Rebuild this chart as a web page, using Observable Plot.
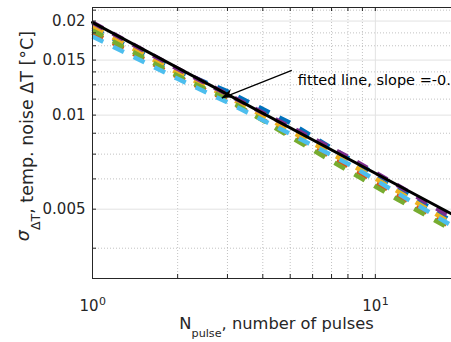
<!DOCTYPE html>
<html><head><meta charset="utf-8">
<script src="https://cdn.jsdelivr.net/npm/d3@7"></script>
<script src="https://cdn.jsdelivr.net/npm/@observablehq/plot@0.6"></script>
<style>
html,body{margin:0;padding:0;overflow:hidden;background:#fff;width:451px;height:342px}
svg{max-width:none !important;}
</style></head><body><div id="chart"></div>
<script>
// ---- data ----
const nPulse = [1, 2, 3, 5, 8, 12, 20];
const seriesNames = ["s1", "s2", "s3", "s4", "s5", "s6"];
const seriesColors = ["#0072BD", "#D95319", "#EDB120", "#7E2F8E", "#77AC30", "#4DBEEE"];
const s1 = [0.01894, 0.01386, 0.01191, 0.00944, 0.00730, 0.00587, 0.00439];
const s2 = [0.01839, 0.01326, 0.01115, 0.00864, 0.00688, 0.00554, 0.00420];
const s3 = [0.01922, 0.01366, 0.01148, 0.00890, 0.00704, 0.00570, 0.00433];
const s4 = [0.01980, 0.01407, 0.01165, 0.00917, 0.00736, 0.00596, 0.00452];
const s5 = [0.01866, 0.01336, 0.01123, 0.00852, 0.00664, 0.00537, 0.00414];
const s6 = [0.01785, 0.01307, 0.01098, 0.00871, 0.00699, 0.00562, 0.00426];
const seriesValues = [s1, s2, s3, s4, s5, s6];
const fitX = [1, 20];
const fitY = [0.0198, 0.00466];
const yTickValues = [0.005, 0.01, 0.015, 0.02];
const yTickLabels = ["0.005", "0.01", "0.015", "0.02"];
const yMinor = [0.00375, 0.00625, 0.0075, 0.00875, 0.01125, 0.0125, 0.01375, 0.01667, 0.01833, 0.02167];
const xMajor = [1, 10];
const xTickBase = ["10", "10"];
const xTickExp = ["0", "1"];
const xMinor = [2, 3, 4, 5, 6, 7, 8, 9];
const annotationText = "fitted line, slope =-0.5";
const annotationPos = [5.32, 0.01244];
const arrowFrom = [5.066, 0.0139];
const arrowTo = [2.866, 0.01133];

// ---- tables ----
const lineData = seriesNames.flatMap((s, k) => nPulse.map((n, i) => ({series: s, n, v: seriesValues[k][i]})));
const fitData = fitX.map((x, i) => ({x, y: fitY[i]}));
const txt = "#262626";
const FONT = "DejaVu Sans";

const plot = Plot.plot({
  width: 470, height: 342,
  marginLeft: 92, marginRight: 10, marginTop: 7, marginBottom: 64,
  style: {fontFamily: FONT, fontSize: "15px", color: txt, background: "white", maxWidth: "none"},
  x: {type: "log", domain: [1, 20], axis: null},
  y: {type: "log", domain: [0.003, 0.0221], axis: null},
  color: {domain: seriesNames, range: seriesColors},
  marks: [
    Plot.ruleY(yMinor, {y: d => d, stroke: "#a8a8a8", strokeOpacity: 0.7, strokeDasharray: "1,2"}),
    Plot.ruleX(xMinor, {x: d => d, stroke: "#a8a8a8", strokeOpacity: 0.7, strokeDasharray: "1,2"}),
    Plot.ruleY(yTickValues, {y: d => d, stroke: "#e2e2e2"}),
    Plot.ruleX(xMajor, {x: d => d, stroke: "#e2e2e2"}),
    Plot.line(lineData, {x: "n", y: "v", z: "series", stroke: "series", strokeWidth: 4.5, strokeDasharray: "12,11", strokeLinecap: "butt"}),
    Plot.line(fitData, {x: "x", y: "y", stroke: "black", strokeWidth: 3}),
    Plot.frame({stroke: txt, strokeWidth: 1}),
    Plot.tickX(xMinor.concat(xMajor), {x: d => d, stroke: txt, insetTop: 267}),
    Plot.tickX(xMinor.concat(xMajor), {x: d => d, stroke: txt, insetBottom: 267}),
    Plot.tickY(yTickValues.concat(yMinor), {y: d => d, stroke: txt, insetRight: 364}),
    Plot.text(yTickValues, {y: d => d, text: (d, i) => yTickLabels[i], frameAnchor: "left", textAnchor: "end", dx: -7, fontSize: 15, fill: txt}),
    Plot.text(xMajor, {x: d => d, text: (d, i) => xTickBase[i], frameAnchor: "bottom", lineAnchor: "bottom", textAnchor: "end", dx: 6, dy: 32.7, fontSize: 15, fill: txt}),
    Plot.text(xMajor, {x: d => d, text: (d, i) => xTickExp[i], frameAnchor: "bottom", lineAnchor: "bottom", textAnchor: "start", dx: 6.5, dy: 26, fontSize: 11, fill: txt}),
    Plot.text(["@@XLABEL@@"], {text: d => d, frameAnchor: "bottom", lineAnchor: "bottom", textAnchor: "middle", dy: 50, fontSize: 16.3, fill: txt}),
    Plot.text(["@@YLABEL@@"], {text: d => d, frameAnchor: "left", rotate: -90, lineAnchor: "bottom", textAnchor: "middle", dx: -60, dy: -7, fontSize: 17.5, fill: txt}),
    Plot.link([0], {x1: () => arrowFrom[0], y1: () => arrowFrom[1], x2: () => arrowTo[0], y2: () => arrowTo[1], stroke: "black", strokeWidth: 1.2}),
    Plot.text([annotationText], {x: () => annotationPos[0], y: () => annotationPos[1], text: d => d, textAnchor: "start", lineAnchor: "bottom", fontSize: 14.5, fill: "black"})
  ]
});
document.getElementById("chart").appendChild(plot);

// rich text (subscripts / italics)
const NS = "http://www.w3.org/2000/svg";
function rich(placeholder, parts) {
  plot.querySelectorAll("text, tspan").forEach(el => {
    if (el.children.length === 0 && el.textContent === placeholder) {
      el.textContent = "";
      for (const p of parts) {
        const ts = document.createElementNS(NS, "tspan");
        ts.textContent = p.t;
        if (p.size) ts.setAttribute("font-size", p.size);
        if (p.dy) ts.setAttribute("dy", p.dy);
        if (p.italic) ts.setAttribute("font-style", "italic");
        el.appendChild(ts);
      }
    }
  });
}
rich("@@XLABEL@@", [{t: "N"}, {t: "pulse", size: 11.2, dy: 8}, {t: ", number of pulses", dy: -8}]);
rich("@@YLABEL@@", [{t: "σ", italic: true, dy: -4}, {t: "ΔT", size: 12.5, dy: 11}, {t: ", temp. noise ΔT [°C]", dy: -7}]);

// filled arrow head
const sx = plot.scale("x"), sy = plot.scale("y");
const tx = sx.apply(arrowTo[0]), ty = sy.apply(arrowTo[1]);
const fx = sx.apply(arrowFrom[0]), fy = sy.apply(arrowFrom[1]);
const L = Math.hypot(tx - fx, ty - fy), ux = (tx - fx) / L, uy = (ty - fy) / L, px = -uy, py = ux;
const hl = 12, hw = 4.5;
const pts = [[tx, ty], [tx - hl * ux + hw * px, ty - hl * uy + hw * py], [tx - 0.7 * hl * ux, ty - 0.7 * hl * uy], [tx - hl * ux - hw * px, ty - hl * uy - hw * py]];
const poly = document.createElementNS(NS, "polygon");
poly.setAttribute("points", pts.map(p => p.join(",")).join(" "));
poly.setAttribute("fill", "black");
plot.appendChild(poly);
</script></body></html>
